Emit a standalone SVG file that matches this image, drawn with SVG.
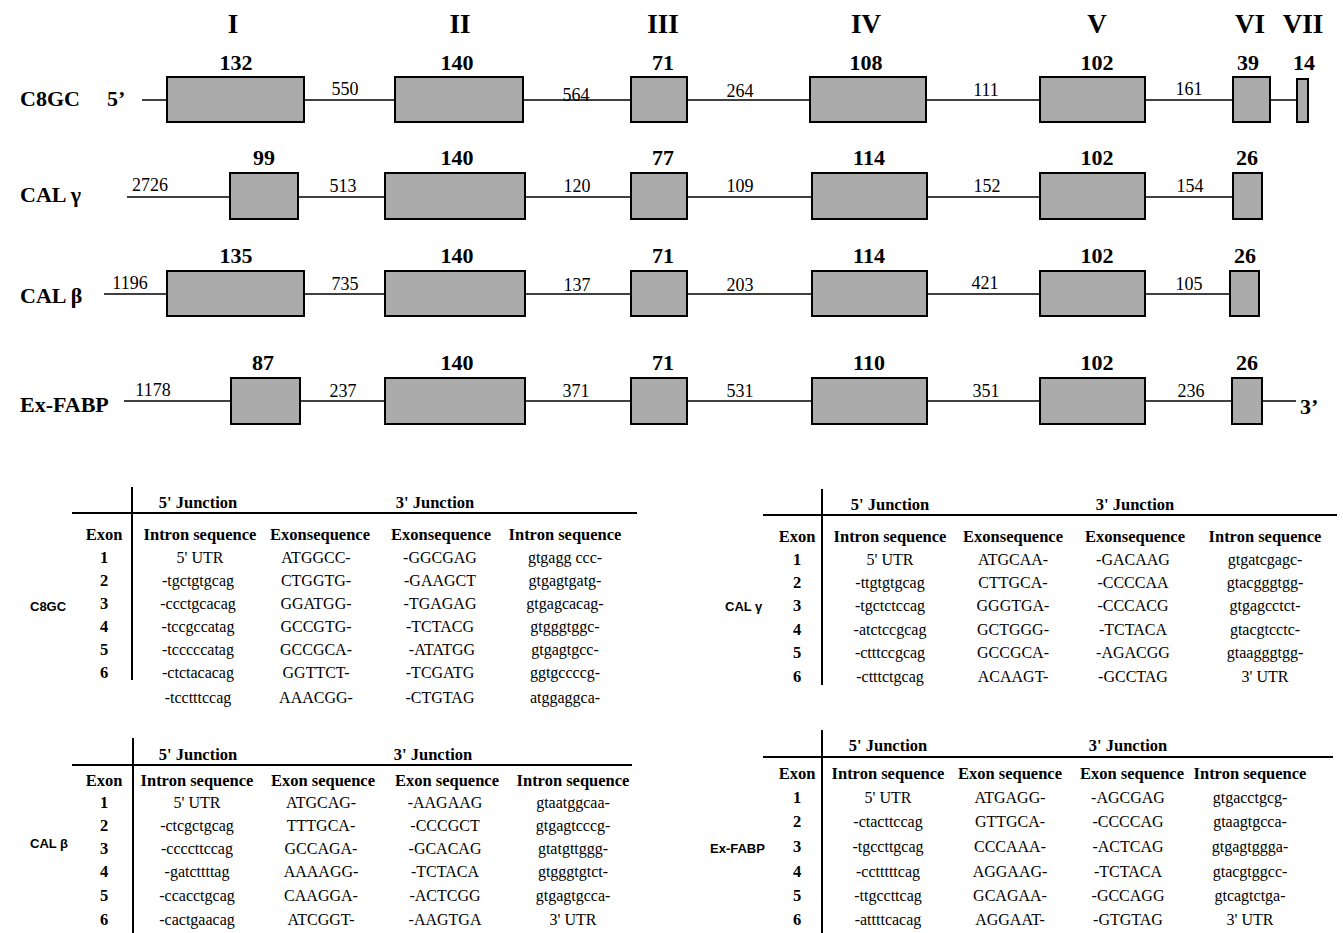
<svg xmlns="http://www.w3.org/2000/svg" width="1343" height="933" viewBox="0 0 1343 933">
<style>
.bg{fill:#ffffff}
.ln{stroke:#000;stroke-width:1.6;fill:none}
.ex{fill:#ababab;stroke:#000;stroke-width:2}
.rom{font-family:"Liberation Serif",serif;font-weight:bold;font-size:27px;text-anchor:middle}
.gname{font-family:"Liberation Serif",serif;font-weight:bold;font-size:22px}
.esz{font-family:"Liberation Serif",serif;font-weight:bold;font-size:22px;text-anchor:middle}
.isz{font-family:"Liberation Serif",serif;font-size:18px;text-anchor:middle}
.th{font-family:"Liberation Serif",serif;font-weight:bold;font-size:16.5px;text-anchor:middle}
.td{font-family:"Liberation Serif",serif;font-size:16px;text-anchor:middle}
.tl{font-family:"Liberation Sans",Arial,sans-serif;font-weight:bold;font-size:13px}
.rule{stroke:#000;stroke-width:2;fill:none}
</style>
<rect class="bg" x="0" y="0" width="1343" height="933"/>

<g id="exon-numerals">
<text class="rom" x="233" y="33">I</text>
<text class="rom" x="460" y="33">II</text>
<text class="rom" x="663" y="33">III</text>
<text class="rom" x="866" y="33">IV</text>
<text class="rom" x="1097" y="33">V</text>
<text class="rom" x="1250" y="33">VI</text>
<text class="rom" x="1303" y="33">VII</text>
</g>

<g id="connectors">
<line class="ln" x1="142" y1="100" x2="1297" y2="100"/>
<line class="ln" x1="127" y1="197" x2="1233" y2="197"/>
<line class="ln" x1="104" y1="294" x2="1230" y2="294"/>
<line class="ln" x1="124" y1="401" x2="1296" y2="401"/>
</g>

<g id="gene-C8GC">
<text class="gname" x="20" y="106">C8GC</text>
<text class="gname" x="107" y="106">5’</text>
<rect class="ex" x="167" y="77" width="137" height="45"/>
<rect class="ex" x="395" y="77" width="128" height="45"/>
<rect class="ex" x="631" y="77" width="56" height="45"/>
<rect class="ex" x="810" y="77" width="116" height="45"/>
<rect class="ex" x="1040" y="77" width="105" height="45"/>
<rect class="ex" x="1233" y="77" width="37" height="45"/>
<rect class="ex" x="1297" y="79" width="11" height="43"/>
<text class="esz" x="236" y="70">132</text>
<text class="esz" x="457" y="70">140</text>
<text class="esz" x="663" y="70">71</text>
<text class="esz" x="866" y="70">108</text>
<text class="esz" x="1097" y="70">102</text>
<text class="esz" x="1248" y="70">39</text>
<text class="esz" x="1304" y="70">14</text>
<text class="isz" x="345" y="95">550</text>
<text class="isz" x="576" y="101">564</text>
<text class="isz" x="740" y="97">264</text>
<text class="isz" x="986" y="96">111</text>
<text class="isz" x="1189" y="95">161</text>
</g>

<g id="gene-CALg">
<text class="gname" x="20" y="202">CAL γ</text>
<rect class="ex" x="230" y="173" width="68" height="46"/>
<rect class="ex" x="385" y="173" width="140" height="46"/>
<rect class="ex" x="631" y="173" width="56" height="46"/>
<rect class="ex" x="812" y="173" width="115" height="46"/>
<rect class="ex" x="1040" y="173" width="105" height="46"/>
<rect class="ex" x="1233" y="173" width="29" height="46"/>
<text class="esz" x="264" y="165">99</text>
<text class="esz" x="457" y="165">140</text>
<text class="esz" x="663" y="165">77</text>
<text class="esz" x="869" y="165">114</text>
<text class="esz" x="1097" y="165">102</text>
<text class="esz" x="1247" y="165">26</text>
<text class="isz" x="150" y="191">2726</text>
<text class="isz" x="343" y="192">513</text>
<text class="isz" x="577" y="192">120</text>
<text class="isz" x="740" y="192">109</text>
<text class="isz" x="987" y="192">152</text>
<text class="isz" x="1190" y="192">154</text>
</g>

<g id="gene-CALb">
<text class="gname" x="20" y="303">CAL β</text>
<rect class="ex" x="167" y="271" width="137" height="45"/>
<rect class="ex" x="385" y="271" width="140" height="45"/>
<rect class="ex" x="631" y="271" width="56" height="45"/>
<rect class="ex" x="812" y="271" width="115" height="45"/>
<rect class="ex" x="1040" y="271" width="105" height="45"/>
<rect class="ex" x="1230" y="271" width="29" height="45"/>
<text class="esz" x="236" y="263">135</text>
<text class="esz" x="457" y="263">140</text>
<text class="esz" x="663" y="263">71</text>
<text class="esz" x="869" y="263">114</text>
<text class="esz" x="1097" y="263">102</text>
<text class="esz" x="1245" y="263">26</text>
<text class="isz" x="130" y="289">1196</text>
<text class="isz" x="345" y="290">735</text>
<text class="isz" x="577" y="291">137</text>
<text class="isz" x="740" y="291">203</text>
<text class="isz" x="985" y="289">421</text>
<text class="isz" x="1189" y="290">105</text>
</g>

<g id="gene-ExFABP">
<text class="gname" x="20" y="412">Ex-FABP</text>
<rect class="ex" x="231" y="378" width="69" height="46"/>
<rect class="ex" x="385" y="378" width="140" height="46"/>
<rect class="ex" x="631" y="378" width="56" height="46"/>
<rect class="ex" x="812" y="378" width="115" height="46"/>
<rect class="ex" x="1040" y="378" width="105" height="46"/>
<rect class="ex" x="1232" y="378" width="30" height="46"/>
<text class="esz" x="263" y="370">87</text>
<text class="esz" x="457" y="370">140</text>
<text class="esz" x="663" y="370">71</text>
<text class="esz" x="869" y="370">110</text>
<text class="esz" x="1097" y="370">102</text>
<text class="esz" x="1247" y="370">26</text>
<text class="isz" x="153" y="396">1178</text>
<text class="isz" x="343" y="397">237</text>
<text class="isz" x="576" y="397">371</text>
<text class="isz" x="740" y="397">531</text>
<text class="isz" x="986" y="397">351</text>
<text class="isz" x="1191" y="397">236</text>
<text class="gname" x="1300" y="414">3’</text>
</g>

<g id="table-C8GC">
<line class="rule" x1="132" y1="487" x2="132" y2="680"/>
<line class="rule" x1="72" y1="513" x2="637" y2="513"/>
<text class="th" x="198" y="508">5' Junction</text>
<text class="th" x="435" y="508">3' Junction</text>
<text class="tl" x="30" y="611">C8GC</text>
<text class="th" x="104" y="540">Exon</text>
<text class="th" x="200" y="540">Intron sequence</text>
<text class="th" x="320" y="540">Exonsequence</text>
<text class="th" x="441" y="540">Exonsequence</text>
<text class="th" x="565" y="540">Intron sequence</text>
<text class="th" x="104" y="563">1</text>
<text class="th" x="104" y="586">2</text>
<text class="th" x="104" y="609">3</text>
<text class="th" x="104" y="632">4</text>
<text class="th" x="104" y="655">5</text>
<text class="th" x="104" y="678">6</text>
<text class="td" x="200" y="563">5' UTR</text>
<text class="td" x="198" y="586">-tgctgtgcag</text>
<text class="td" x="198" y="609">-ccctgcacag</text>
<text class="td" x="198" y="632">-tccgccatag</text>
<text class="td" x="198" y="655">-tcccccatag</text>
<text class="td" x="198" y="678">-ctctacacag</text>
<text class="td" x="198" y="703">-tcctttccag</text>
<text class="td" x="316" y="563">ATGGCC-</text>
<text class="td" x="316" y="586">CTGGTG-</text>
<text class="td" x="316" y="609">GGATGG-</text>
<text class="td" x="316" y="632">GCCGTG-</text>
<text class="td" x="316" y="655">GCCGCA-</text>
<text class="td" x="316" y="678">GGTTCT-</text>
<text class="td" x="316" y="703">AAACGG-</text>
<text class="td" x="440" y="563">-GGCGAG</text>
<text class="td" x="440" y="586">-GAAGCT</text>
<text class="td" x="440" y="609">-TGAGAG</text>
<text class="td" x="440" y="632">-TCTACG</text>
<text class="td" x="442" y="655">-ATATGG</text>
<text class="td" x="440" y="678">-TCGATG</text>
<text class="td" x="440" y="703">-CTGTAG</text>
<text class="td" x="565" y="563">gtgagg ccc-</text>
<text class="td" x="565" y="586">gtgagtgatg-</text>
<text class="td" x="565" y="609">gtgagcacag-</text>
<text class="td" x="565" y="632">gtgggtggc-</text>
<text class="td" x="565" y="655">gtgagtgcc-</text>
<text class="td" x="565" y="678">ggtgccccg-</text>
<text class="td" x="565" y="703">atggaggca-</text>
</g>

<g id="table-CALg">
<line class="rule" x1="822" y1="489" x2="822" y2="685"/>
<line class="rule" x1="763" y1="515" x2="1337" y2="515"/>
<text class="th" x="890" y="510">5' Junction</text>
<text class="th" x="1135" y="510">3' Junction</text>
<text class="tl" x="725" y="611">CAL γ</text>
<text class="th" x="797" y="542">Exon</text>
<text class="th" x="890" y="542">Intron sequence</text>
<text class="th" x="1013" y="542">Exonsequence</text>
<text class="th" x="1135" y="542">Exonsequence</text>
<text class="th" x="1265" y="542">Intron sequence</text>
<text class="th" x="797" y="565">1</text>
<text class="th" x="797" y="588">2</text>
<text class="th" x="797" y="611">3</text>
<text class="th" x="797" y="635">4</text>
<text class="th" x="797" y="658">5</text>
<text class="th" x="797" y="682">6</text>
<text class="td" x="890" y="565">5' UTR</text>
<text class="td" x="890" y="588">-ttgtgtgcag</text>
<text class="td" x="890" y="611">-tgctctccag</text>
<text class="td" x="890" y="635">-atctccgcag</text>
<text class="td" x="890" y="658">-ctttccgcag</text>
<text class="td" x="890" y="682">-ctttctgcag</text>
<text class="td" x="1013" y="565">ATGCAA-</text>
<text class="td" x="1013" y="588">CTTGCA-</text>
<text class="td" x="1013" y="611">GGGTGA-</text>
<text class="td" x="1013" y="635">GCTGGG-</text>
<text class="td" x="1013" y="658">GCCGCA-</text>
<text class="td" x="1013" y="682">ACAAGT-</text>
<text class="td" x="1133" y="565">-GACAAG</text>
<text class="td" x="1133" y="588">-CCCCAA</text>
<text class="td" x="1133" y="611">-CCCACG</text>
<text class="td" x="1133" y="635">-TCTACA</text>
<text class="td" x="1133" y="658">-AGACGG</text>
<text class="td" x="1133" y="682">-GCCTAG</text>
<text class="td" x="1265" y="565">gtgatcgagc-</text>
<text class="td" x="1265" y="588">gtacgggtgg-</text>
<text class="td" x="1265" y="611">gtgagcctct-</text>
<text class="td" x="1265" y="635">gtacgtcctc-</text>
<text class="td" x="1265" y="658">gtaagggtgg-</text>
<text class="td" x="1265" y="682">3' UTR</text>
</g>

<g id="table-CALb">
<line class="rule" x1="133" y1="738" x2="133" y2="933"/>
<line class="rule" x1="72" y1="765" x2="632" y2="765"/>
<text class="th" x="198" y="760">5' Junction</text>
<text class="th" x="433" y="760">3' Junction</text>
<text class="tl" x="30" y="848">CAL β</text>
<text class="th" x="104" y="786">Exon</text>
<text class="th" x="197" y="786">Intron sequence</text>
<text class="th" x="323" y="786">Exon sequence</text>
<text class="th" x="447" y="786">Exon sequence</text>
<text class="th" x="573" y="786">Intron sequence</text>
<text class="th" x="104" y="808">1</text>
<text class="th" x="104" y="831">2</text>
<text class="th" x="104" y="854">3</text>
<text class="th" x="104" y="877">4</text>
<text class="th" x="104" y="901">5</text>
<text class="th" x="104" y="925">6</text>
<text class="td" x="197" y="808">5' UTR</text>
<text class="td" x="197" y="831">-ctcgctgcag</text>
<text class="td" x="197" y="854">-ccccttccag</text>
<text class="td" x="197" y="877">-gatcttttag</text>
<text class="td" x="197" y="901">-ccacctgcag</text>
<text class="td" x="197" y="925">-cactgaacag</text>
<text class="td" x="321" y="808">ATGCAG-</text>
<text class="td" x="321" y="831">TTTGCA-</text>
<text class="td" x="321" y="854">GCCAGA-</text>
<text class="td" x="321" y="877">AAAAGG-</text>
<text class="td" x="321" y="901">CAAGGA-</text>
<text class="td" x="321" y="925">ATCGGT-</text>
<text class="td" x="445" y="808">-AAGAAG</text>
<text class="td" x="445" y="831">-CCCGCT</text>
<text class="td" x="445" y="854">-GCACAG</text>
<text class="td" x="445" y="877">-TCTACA</text>
<text class="td" x="445" y="901">-ACTCGG</text>
<text class="td" x="445" y="925">-AAGTGA</text>
<text class="td" x="573" y="808">gtaatggcaa-</text>
<text class="td" x="573" y="831">gtgagtcccg-</text>
<text class="td" x="573" y="854">gtatgttggg-</text>
<text class="td" x="573" y="877">gtgggtgtct-</text>
<text class="td" x="573" y="901">gtgagtgcca-</text>
<text class="td" x="573" y="925">3' UTR</text>
</g>

<g id="table-ExFABP">
<line class="rule" x1="822" y1="730" x2="822" y2="933"/>
<line class="rule" x1="763" y1="757" x2="1333" y2="757"/>
<text class="th" x="888" y="751">5' Junction</text>
<text class="th" x="1128" y="751">3' Junction</text>
<text class="tl" x="710" y="853">Ex-FABP</text>
<text class="th" x="797" y="779">Exon</text>
<text class="th" x="888" y="779">Intron sequence</text>
<text class="th" x="1010" y="779">Exon sequence</text>
<text class="th" x="1132" y="779">Exon sequence</text>
<text class="th" x="1250" y="779">Intron sequence</text>
<text class="th" x="797" y="803">1</text>
<text class="th" x="797" y="827">2</text>
<text class="th" x="797" y="852">3</text>
<text class="th" x="797" y="877">4</text>
<text class="th" x="797" y="901">5</text>
<text class="th" x="797" y="925">6</text>
<text class="td" x="888" y="803">5' UTR</text>
<text class="td" x="888" y="827">-ctacttccag</text>
<text class="td" x="888" y="852">-tgccttgcag</text>
<text class="td" x="888" y="877">-cctttttcag</text>
<text class="td" x="888" y="901">-ttgccttcag</text>
<text class="td" x="888" y="925">-attttcacag</text>
<text class="td" x="1010" y="803">ATGAGG-</text>
<text class="td" x="1010" y="827">GTTGCA-</text>
<text class="td" x="1010" y="852">CCCAAA-</text>
<text class="td" x="1010" y="877">AGGAAG-</text>
<text class="td" x="1010" y="901">GCAGAA-</text>
<text class="td" x="1010" y="925">AGGAAT-</text>
<text class="td" x="1128" y="803">-AGCGAG</text>
<text class="td" x="1128" y="827">-CCCCAG</text>
<text class="td" x="1128" y="852">-ACTCAG</text>
<text class="td" x="1128" y="877">-TCTACA</text>
<text class="td" x="1128" y="901">-GCCAGG</text>
<text class="td" x="1128" y="925">-GTGTAG</text>
<text class="td" x="1250" y="803">gtgacctgcg-</text>
<text class="td" x="1250" y="827">gtaagtgcca-</text>
<text class="td" x="1250" y="852">gtgagtggga-</text>
<text class="td" x="1250" y="877">gtacgtggcc-</text>
<text class="td" x="1250" y="901">gtcagtctga-</text>
<text class="td" x="1250" y="925">3' UTR</text>
</g>
</svg>
